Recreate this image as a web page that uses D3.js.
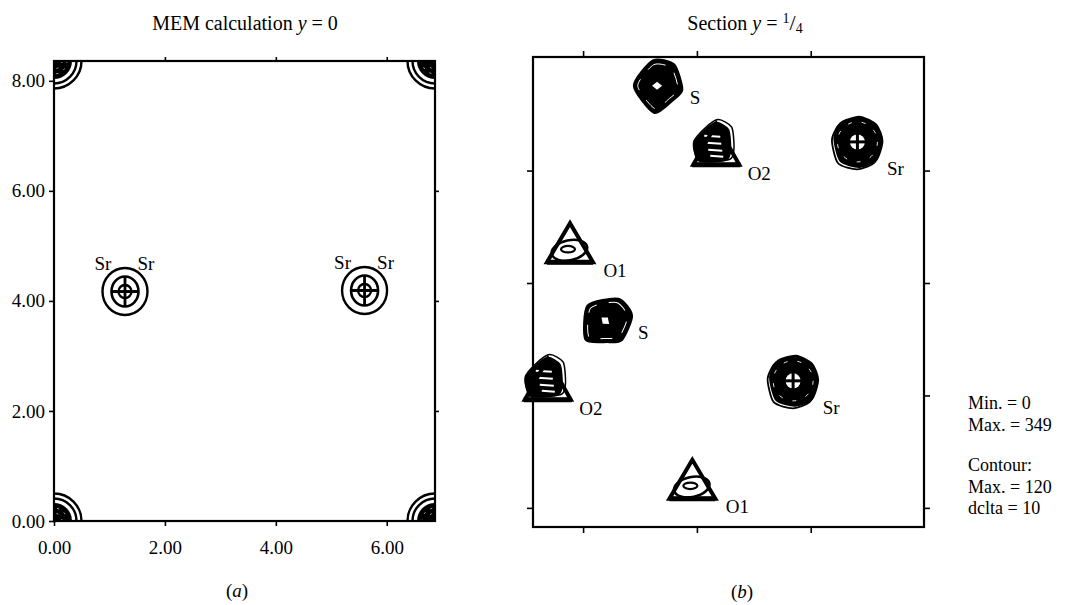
<!DOCTYPE html>
<html><head><meta charset="utf-8">
<script src="https://cdn.jsdelivr.net/npm/d3@7"></script>
<style>body{margin:0;background:#fff}</style>
</head><body>
<svg id="c" width="1070" height="605"></svg>
<script>
// ---------------- data ----------------
const cellX = [0, 6.87];          // a axis (Å)
const cellY = [0, 8.36];          // c axis (Å)
const ticksAX = [0, 2, 4, 6];
const ticksAY = [0, 2, 4, 6, 8];
const ticksAExtra = [2, 4, 6];
const atomsA_x = [1.28, 5.60];
const atomsA_y = [4.17, 4.19];
const atomsA_label = ["Sr", "Sr"];
const cornersA_x = [0, 0, 6.87, 6.87];
const cornersA_y = [0, 8.36, 0, 8.36];

const domainBX = [-0.88, 5.99];
const domainBY = [-0.34, 8.02];
const ticksBX = [0, 2, 4];
const ticksBY = [0, 2, 4, 6];
const atomsB_name = ["S", "O2", "Sr", "O1", "S", "O2", "Sr", "O1"];
const atomsB_x = [1.30, 2.34, 4.82, -0.23, 0.39, -0.62, 3.69, 1.92];
const atomsB_y = [7.51, 6.37, 6.51, 4.62, 3.33, 2.19, 2.26, 0.41];
const notes = ["Min. = 0", "Max. = 349", "Contour:", "Max. = 120", "dclta = 10"];

// ---------------- setup ----------------
const FONT = "Liberation Serif, Times New Roman, serif";
const svg = d3.select("#c").style("font-family", FONT);
const fmt = d3.format(".2f");

const xA = d3.scaleLinear().domain(cellX).range([54, 435]);
const yA = d3.scaleLinear().domain(cellY).range([521, 61]);
const xB = d3.scaleLinear().domain(domainBX).range([533, 924]);
const yB = d3.scaleLinear().domain(domainBY).range([527, 57]);

function styleAxis(g, fs) {
  g.select(".domain").remove();
  g.selectAll(".tick line").attr("stroke", "#000").attr("stroke-width", 1.6);
  g.selectAll(".tick text").attr("fill", "#000").style("font-size", fs + "px").style("font-family", FONT);
}

// ---------------- panel (a) ----------------
const gA = svg.append("g");
svg.append("defs").append("clipPath").attr("id", "clipA")
  .append("rect").attr("x", xA(0)).attr("y", yA(cellY[1]))
  .attr("width", xA(cellX[1]) - xA(0)).attr("height", yA(0) - yA(cellY[1]));

gA.append("g").attr("transform", `translate(0,${yA(0)})`)
  .call(d3.axisBottom(xA).tickValues(ticksAX).tickFormat(fmt).tickSize(5).tickPadding(15))
  .call(g => styleAxis(g, 19));
gA.append("g").attr("transform", `translate(${xA(0)},0)`)
  .call(d3.axisLeft(yA).tickValues(ticksAY).tickFormat(fmt).tickSize(5).tickPadding(4))
  .call(g => styleAxis(g, 19));
gA.append("g").attr("transform", `translate(0,${yA(cellY[1])})`)
  .call(d3.axisTop(xA).tickValues(ticksAExtra).tickFormat("").tickSize(4))
  .call(g => styleAxis(g, 19));
gA.append("g").attr("transform", `translate(${xA(cellX[1])},0)`)
  .call(d3.axisRight(yA).tickValues(ticksAExtra).tickFormat("").tickSize(4))
  .call(g => styleAxis(g, 19));

// corner contours
const corners = gA.append("g").attr("clip-path", "url(#clipA)");
cornersA_x.forEach((cx, i) => {
  const g = corners.append("g").attr("transform", `translate(${xA(cx)},${yA(cornersA_y[i])})`);
  g.append("circle").attr("r", 18).attr("fill", "#000");
  [8, 13].forEach(r => g.append("circle").attr("r", r).attr("fill", "none")
    .attr("stroke", "#fff").attr("stroke-width", 0.7).attr("stroke-dasharray", "2 6"));
  g.append("circle").attr("r", 22.5).attr("fill", "none").attr("stroke", "#000").attr("stroke-width", 2.4);
  g.append("circle").attr("r", 27.5).attr("fill", "none").attr("stroke", "#000").attr("stroke-width", 2.4);
});

// Sr atoms in (a)
atomsA_x.forEach((ax, i) => {
  const cx = xA(ax), cy = yA(atomsA_y[i]);
  const g = gA.append("g").attr("transform", `translate(${cx},${cy})`);
  g.append("ellipse").attr("rx", 22.5).attr("ry", 23.5).attr("fill", "none").attr("stroke", "#000").attr("stroke-width", 2.4);
  g.append("ellipse").attr("rx", 13.5).attr("ry", 15).attr("fill", "none").attr("stroke", "#000").attr("stroke-width", 2.6);
  g.append("circle").attr("r", 6.5).attr("fill", "none").attr("stroke", "#000").attr("stroke-width", 2.4);
  g.append("line").attr("x1", -13.5).attr("x2", 13.5).attr("stroke", "#000").attr("stroke-width", 3);
  g.append("line").attr("y1", -15).attr("y2", 15).attr("stroke", "#000").attr("stroke-width", 2.8);
  gA.append("text").attr("x", cx - 22).attr("y", cy - 28).attr("text-anchor", "middle")
    .attr("dominant-baseline", "central").style("font-size", "19px").text(atomsA_label[i]);
  gA.append("text").attr("x", cx + 21).attr("y", cy - 28).attr("text-anchor", "middle")
    .attr("dominant-baseline", "central").style("font-size", "19px").text(atomsA_label[i]);
});

gA.append("rect").attr("x", xA(0)).attr("y", yA(cellY[1]))
  .attr("width", xA(cellX[1]) - xA(0)).attr("height", yA(0) - yA(cellY[1]))
  .attr("fill", "none").attr("stroke", "#000").attr("stroke-width", 2.2);

const tA = svg.append("text").attr("x", 245).attr("y", 30).attr("text-anchor", "middle").style("font-size", "20px");
tA.append("tspan").text("MEM calculation ");
tA.append("tspan").style("font-style", "italic").text("y");
tA.append("tspan").text(" = 0");

const capA = svg.append("text").attr("x", 237).attr("y", 597).attr("text-anchor", "middle").style("font-size", "19px");
capA.append("tspan").text("(");
capA.append("tspan").style("font-style", "italic").text("a");
capA.append("tspan").text(")");

// ---------------- panel (b) ----------------
const gB = svg.append("g");
gB.append("g").attr("transform", `translate(0,${yB(domainBY[0])})`)
  .call(d3.axisBottom(xB).tickValues(ticksBX).tickFormat("").tickSize(6)).call(g => styleAxis(g, 19));
gB.append("g").attr("transform", `translate(0,${yB(domainBY[1])})`)
  .call(d3.axisTop(xB).tickValues(ticksBX).tickFormat("").tickSize(6)).call(g => styleAxis(g, 19));
gB.append("g").attr("transform", `translate(${xB(domainBX[0])},0)`)
  .call(d3.axisLeft(yB).tickValues(ticksBY).tickFormat("").tickSize(6)).call(g => styleAxis(g, 19));
gB.append("g").attr("transform", `translate(${xB(domainBX[1])},0)`)
  .call(d3.axisRight(yB).tickValues(ticksBY).tickFormat("").tickSize(6)).call(g => styleAxis(g, 19));

const poly = d3.line().curve(d3.curveLinearClosed);
const smooth = d3.line().curve(d3.curveCardinalClosed.tension(0.3));

// shape templates (pixel offsets, styling only)
const srPoly = [[-23,-4],[-15,-20],[3,-25],[19,-17],[25,-1],[19,18],[2,25],[-17,19]];
const sPoly = [[-23,0],[-4,-25],[17,-21],[25,4],[15,15],[-3,27]];
const o1Tri = [[0,-25],[-23,14],[23,14]];
const o2Tri = [[0,-26],[-23,15],[23,15]];
const o2Blob = [[-22,-6],[-12,-19],[0,-27],[12,-20],[14,0],[10,10],[-17,11]];
const labelOffset = { S: [38, 12], O1: [45, 22], O2: [43, 24], Sr: [38, 27] };

function drawSr(g) {
  g.append("path").attr("d", smooth(srPoly)).attr("fill", "#000").attr("stroke", "#000").attr("stroke-width", 2);
  g.append("path").attr("d", smooth(srPoly.map(([x, y]) => [x * 1.02 - 2, y * 1.02 + 2])))
    .attr("fill", "none").attr("stroke", "#000").attr("stroke-width", 1.8);
  g.append("circle").attr("r", 20).attr("fill", "none").attr("stroke", "#fff")
    .attr("stroke-width", 0.9).attr("stroke-dasharray", "4 10");
  g.append("circle").attr("r", 7.5).attr("fill", "#fff");
  g.append("line").attr("x1", -8).attr("x2", 8).attr("stroke", "#000").attr("stroke-width", 3);
  g.append("line").attr("y1", -8).attr("y2", 8).attr("stroke", "#000").attr("stroke-width", 3);
}
function drawS(g, rot) {
  const gg = g.append("g").attr("transform", `rotate(${rot})`);
  gg.append("path").attr("d", smooth(sPoly)).attr("fill", "#000").attr("stroke", "#000").attr("stroke-width", 2.5);
  gg.append("path").attr("d", smooth(sPoly.map(([x, y]) => [x * 0.84, y * 0.84])))
    .attr("fill", "none").attr("stroke", "#fff").attr("stroke-width", 1).attr("stroke-dasharray", "12 12");
  gg.append("path").attr("d", poly([[-5, 0], [0, -4], [5, 0], [0, 4]])).attr("fill", "#fff");
}
function drawO1(g) {
  g.append("path").attr("d", poly(o1Tri)).attr("fill", "none").attr("stroke", "#000")
    .attr("stroke-width", 4).attr("stroke-linejoin", "miter");
  g.append("ellipse").attr("cx", -1).attr("cy", 2).attr("rx", 18).attr("ry", 10)
    .attr("transform", "rotate(-12)").attr("fill", "none").attr("stroke", "#000").attr("stroke-width", 2.6);
  g.append("ellipse").attr("cx", -2).attr("cy", 1).attr("rx", 7).attr("ry", 3.2)
    .attr("fill", "#fff").attr("stroke", "#000").attr("stroke-width", 2.2);
  g.append("line").attr("x1", -23).attr("x2", 23).attr("y1", 14).attr("y2", 14).attr("stroke", "#000").attr("stroke-width", 5);
}
function drawO2(g) {
  g.append("path").attr("d", smooth(o2Blob)).attr("fill", "#000").attr("stroke", "#000").attr("stroke-width", 2);
  g.append("path").attr("d", smooth(o2Blob.map(([x, y]) => [x * 1.12 + 2, y * 1.08 - 1])))
    .attr("fill", "none").attr("stroke", "#000").attr("stroke-width", 1.5);
  [-14, -7, 0, 6].forEach((yy, k) => g.append("line").attr("x1", -12 + k * 2).attr("x2", 4 + k).attr("y1", yy).attr("y2", yy + 1)
    .attr("stroke", "#fff").attr("stroke-width", 2));
  g.append("path").attr("d", poly(o2Tri)).attr("fill", "none").attr("stroke", "#000")
    .attr("stroke-width", 4).attr("stroke-linejoin", "miter");
  g.append("line").attr("x1", -24).attr("x2", 24).attr("y1", 15).attr("y2", 15).attr("stroke", "#000").attr("stroke-width", 5);
}

atomsB_name.forEach((name, i) => {
  const cx = xB(atomsB_x[i]), cy = yB(atomsB_y[i]);
  const g = gB.append("g").attr("transform", `translate(${cx},${cy})`);
  if (name === "Sr") drawSr(g);
  else if (name === "S") drawS(g, i === 0 ? 0 : 40);
  else if (name === "O1") drawO1(g);
  else drawO2(g);
  const off = labelOffset[name];
  gB.append("text").attr("x", cx + off[0]).attr("y", cy + off[1]).attr("text-anchor", "middle")
    .attr("dominant-baseline", "central").style("font-size", "19px").text(name);
});

gB.append("rect").attr("x", xB(domainBX[0])).attr("y", yB(domainBY[1]))
  .attr("width", xB(domainBX[1]) - xB(domainBX[0])).attr("height", yB(domainBY[0]) - yB(domainBY[1]))
  .attr("fill", "none").attr("stroke", "#000").attr("stroke-width", 2.2);

const tB = svg.append("text").attr("x", 745).attr("y", 30).attr("text-anchor", "middle").style("font-size", "20px");
tB.append("tspan").text("Section ");
tB.append("tspan").style("font-style", "italic").text("y");
tB.append("tspan").text(" = ");
tB.append("tspan").style("font-size", "14px").attr("dy", -7).text("1");
tB.append("tspan").style("font-size", "22px").attr("dy", 7).text("/");
tB.append("tspan").style("font-size", "14px").attr("dy", 3).text("4");

const capB = svg.append("text").attr("x", 742).attr("y", 598).attr("text-anchor", "middle").style("font-size", "19px");
capB.append("tspan").text("(");
capB.append("tspan").style("font-style", "italic").text("b");
capB.append("tspan").text(")");

const noteY = [409, 431, 471, 493, 514];
notes.forEach((t, i) => svg.append("text").attr("x", 968).attr("y", noteY[i])
  .style("font-size", "18px").text(t));
</script>
</body></html>
